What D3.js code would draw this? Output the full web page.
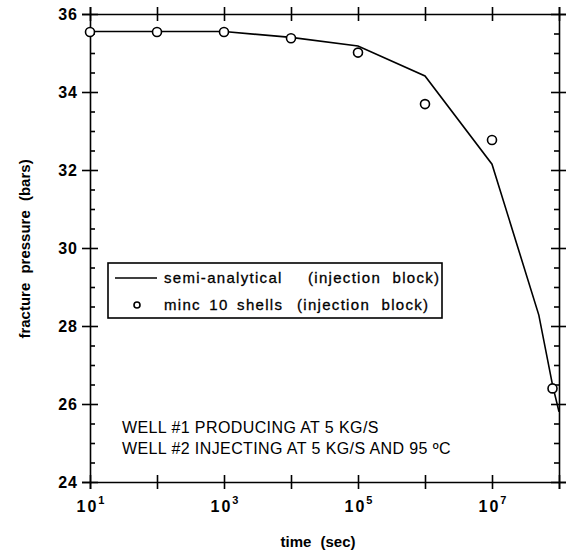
<!DOCTYPE html>
<html>
<head>
<meta charset="utf-8">
<script src="https://cdn.jsdelivr.net/npm/d3@7"></script>
<style>
  body { margin: 0; background: #fff; }
  svg { display: block; font-family: "Liberation Sans", Arial, sans-serif; }
  .axis path { stroke: #000; stroke-width: 1.6; }
  .axis line { stroke: #000; stroke-width: 1.6; }
  .axis text { fill: #000; }
</style>
</head>
<body>
<svg id="chart"></svg>
<script>
// semi-analytical (injection block)
const lineTimes = [1e1, 1e2, 1e3, 1e4, 1e5, 1e6, 1e7, 5e7, 8e7, 1e8];
const lineValues = [35.55, 35.55, 35.55, 35.4, 35.18, 34.41, 32.15, 28.28, 26.49, 25.8];
// minc 10 shells (injection block)
const minTimes = [1e1, 1e2, 1e3, 1e4, 1e5, 1e6, 1e7, 8e7];
const minValues = [35.54, 35.54, 35.54, 35.38, 35.01, 33.69, 32.77, 26.4];

const yMajorTicks = [24, 26, 28, 30, 32, 34, 36];
const yMinorTicks = d3.range(24.5, 36, 0.5).filter((v) => v % 2 !== 0);
const xMajorTicks = [1e1, 1e2, 1e3, 1e4, 1e5, 1e6, 1e7, 1e8];
const xLabelExps = [1, 3, 5, 7];

const legendLabels = ["semi-analytical", "minc 10 shells"];
const legendNote = "(injection block)";
const notes = ["WELL #1 PRODUCING AT 5 KG/S", "WELL #2 INJECTING AT 5 KG/S AND 95 ºC"];

const width = 566;
const height = 552;
const margin = { top: 14, right: 7, bottom: 70, left: 90 };

const svg = d3.select("#chart").attr("width", width).attr("height", height);

const x = d3.scaleLog().domain([1e1, 1e8]).range([margin.left, width - margin.right]);
const y = d3.scaleLinear().domain([24, 36]).range([height - margin.bottom, margin.top]);

const x0 = x.range()[0], x1 = x.range()[1];
const y0 = y.range()[0], y1 = y.range()[1];

// left axis
const leftAxis = svg.append("g").attr("class", "axis")
  .attr("transform", `translate(${x0},0)`)
  .call(d3.axisLeft(y).tickValues(yMajorTicks).tickSize(8).tickPadding(4).tickFormat(d3.format("d")));
leftAxis.selectAll(".tick line").attr("x1", 8);
leftAxis.selectAll(".tick text")
  .style("font-size", "16px").style("font-weight", "bold").attr("dy", "0.36em")
  .style("letter-spacing", "1px");
leftAxis.append("g").call(d3.axisLeft(y).tickValues(yMinorTicks).tickSize(-5).tickFormat(""))
  .select(".domain").remove();

// right axis
const rightAxis = svg.append("g").attr("class", "axis")
  .attr("transform", `translate(${x1},0)`)
  .call(d3.axisRight(y).tickValues(yMajorTicks).tickSize(8).tickFormat(""));
rightAxis.selectAll(".tick line").attr("x1", -8);
rightAxis.append("g").call(d3.axisRight(y).tickValues(yMinorTicks).tickSize(-5).tickFormat(""))
  .select(".domain").remove();

// bottom axis
const bottomAxis = svg.append("g").attr("class", "axis")
  .attr("transform", `translate(0,${y0})`)
  .call(d3.axisBottom(x).tickValues(xMajorTicks).tickSize(7).tickFormat(""));
bottomAxis.selectAll(".tick line").attr("y1", -7);
bottomAxis.selectAll(".tick")
  .filter((d) => xLabelExps.includes(Math.round(Math.log10(d))))
  .append("text")
  .attr("y", 30)
  .attr("text-anchor", "middle")
  .style("font-size", "16px")
  .style("font-weight", "bold")
  .each(function (d) {
    const t = d3.select(this);
    t.append("tspan").text("10").style("letter-spacing", "2px");
    t.append("tspan").attr("dy", -8).style("font-size", "11px").text(Math.round(Math.log10(d)));
  });

// top axis
const topAxis = svg.append("g").attr("class", "axis")
  .attr("transform", `translate(0,${y1})`)
  .call(d3.axisTop(x).tickValues(xMajorTicks).tickSize(7).tickFormat(""));
topAxis.selectAll(".tick line").attr("y1", 7);

// axis titles
svg.append("text")
  .attr("x", 318)
  .attr("y", 547)
  .attr("text-anchor", "middle")
  .style("font-size", "15px")
  .style("font-weight", "bold")
  .style("word-spacing", "5px")
  .text("time (sec)");

svg.append("text")
  .attr("transform", `translate(30,249) rotate(-90)`)
  .attr("text-anchor", "middle")
  .style("font-size", "15px")
  .style("font-weight", "bold")
  .style("word-spacing", "5px")
  .text("fracture pressure (bars)");

// series
const line = d3.line().x((d) => x(d[0])).y((d) => y(d[1]));
svg.append("path")
  .datum(d3.zip(lineTimes, lineValues))
  .attr("fill", "none")
  .attr("stroke", "#000")
  .attr("stroke-width", 1.6)
  .attr("d", line);

svg.append("g").selectAll("circle")
  .data(d3.zip(minTimes, minValues))
  .join("circle")
  .attr("cx", (d) => x(d[0]))
  .attr("cy", (d) => y(d[1]))
  .attr("r", 4.5)
  .attr("fill", "#fff")
  .attr("stroke", "#000")
  .attr("stroke-width", 1.6);

// legend
const legend = svg.append("g").attr("transform", "translate(108,263)");
legend.append("rect")
  .attr("width", 334).attr("height", 55)
  .attr("fill", "#fff").attr("stroke", "#000").attr("stroke-width", 1.6);
legend.append("line")
  .attr("x1", 7).attr("x2", 49).attr("y1", 15).attr("y2", 15)
  .attr("stroke", "#000").attr("stroke-width", 1.6);
legend.append("circle")
  .attr("cx", 29).attr("cy", 42).attr("r", 3)
  .attr("fill", "#fff").attr("stroke", "#000").attr("stroke-width", 1.6);
legendLabels.forEach((lab, i) => {
  const g = legend.append("g").attr("transform", `translate(0,${20 + i * 27})`)
    .style("font-size", "15px").style("letter-spacing", "1.3px")
    .attr("stroke", "#000").attr("stroke-width", 0.3);
  g.append("text").attr("x", 56).text(lab).style("word-spacing", "3px");
  g.append("text").attr("x", i === 0 ? 200 : 189).text(legendNote).style("word-spacing", "6px");
});

// notes
notes.forEach((n, i) => {
  svg.append("text")
    .attr("x", 122)
    .attr("y", 433 + i * 21)
    .style("font-size", "16px")
    .style("letter-spacing", "0.4px")
    .text(n);
});
</script>
</body>
</html>
